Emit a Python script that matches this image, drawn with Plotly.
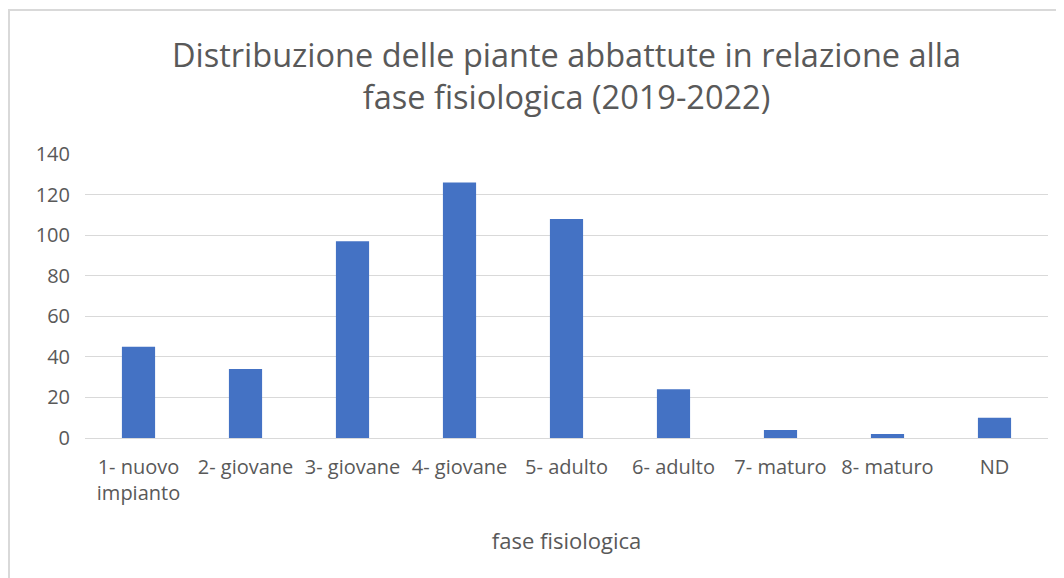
import plotly.graph_objects as go

# fasi fisiologiche e numero di piante abbattute
fasi = ["1- nuovo<br>impianto", "2- giovane", "3- giovane", "4- giovane",
        "5- adulto", "6- adulto", "7- maturo", "8- maturo", "ND"]
piante = [45, 34, 97, 126, 108, 24, 4, 2, 10]
y_ticks = [0, 20, 40, 60, 80, 100, 120, 140]

BLUE = "#4472C4"
GREY_TXT = "#595959"
GRID = "#D9D9D9"
FONT = "Open Sans, sans-serif"

# the page adds an 8px body margin, so the figure is a bit smaller than the window
W, H = 1056, 570
L, R, T, B = 77, 16, 146, 140
pw, ph = W - L - R, H - T - B

fig = go.Figure(go.Bar(x=fasi, y=piante, marker=dict(color=BLUE, line=dict(width=0))))

fig.update_layout(
    width=W,
    height=H,
    margin=dict(l=L, r=R, t=T, b=B),
    paper_bgcolor="white",
    plot_bgcolor="white",
    font=dict(family=FONT, color=GREY_TXT, size=20),
    bargap=0.69,
    showlegend=False,
    title=dict(
        text="Distribuzione delle piante abbattute in relazione alla<br>fase fisiologica (2019-2022)",
        x=0.5, xref="paper", xanchor="center",
        y=1 - 59 / H, yref="container", yanchor="top",
        font=dict(family=FONT, size=32.5, color=GREY_TXT),
    ),
    xaxis=dict(
        showgrid=False, showline=True, linecolor=GRID, linewidth=1,
        ticks="", tickfont=dict(size=20), ticklabelstandoff=11,
        title=dict(text="fase fisiologica", font=dict(size=22), standoff=28),
    ),
    yaxis=dict(
        range=[0, 140], tickvals=y_ticks, showgrid=True, gridcolor=GRID,
        gridwidth=1, zeroline=False, showline=False, ticks="",
        tickfont=dict(size=20), ticklabelstandoff=14,
    ),
    shapes=[dict(type="rect", xref="paper", yref="paper",
                 x0=-(L - 1) / pw, x1=1 + (R + 20) / pw,
                 y0=-(B + 20) / ph, y1=1 + (T - 2) / ph,
                 line=dict(color=GRID, width=2), layer="below")],
)

fig.write_html("out.html")
